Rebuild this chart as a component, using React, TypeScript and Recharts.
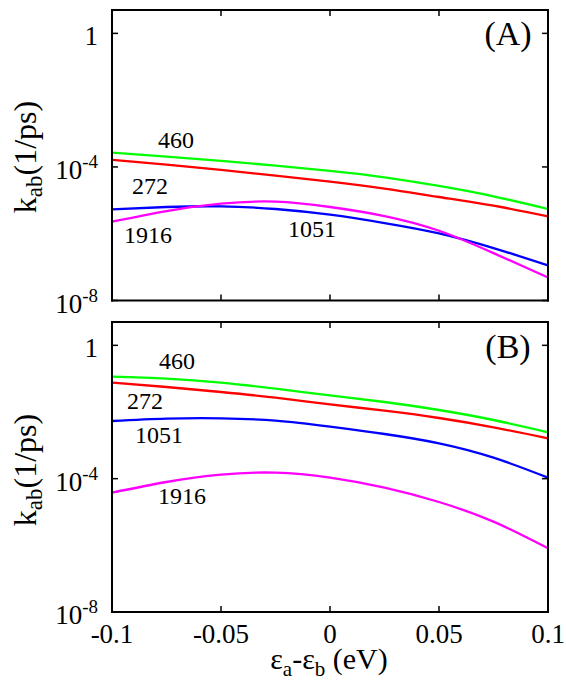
import React from "react";
import { LineChart, Line, XAxis, YAxis } from "recharts";

// energy gap eps_a - eps_b (eV)
const X_VALUES = [-0.1, -0.075, -0.05, -0.025, 0, 0.025, 0.05, 0.075, 0.1];

// log10 k_ab (1/ps), panel A
const A_460 = [-3.57, -3.69, -3.82, -3.96, -4.12, -4.31, -4.57, -4.88, -5.26];
const A_272 = [-3.79, -3.93, -4.09, -4.26, -4.44, -4.65, -4.9, -5.16, -5.48];
const A_1051 = [-5.27, -5.2, -5.18, -5.26, -5.43, -5.68, -5.99, -6.43, -6.95];
const A_1916 = [-5.64, -5.32, -5.1, -5.04, -5.2, -5.47, -5.91, -6.58, -7.31];

// log10 k_ab (1/ps), panel B
const B_460 = [-0.94, -1.0, -1.12, -1.3, -1.5, -1.7, -1.94, -2.24, -2.61];
const B_272 = [-1.12, -1.25, -1.4, -1.57, -1.77, -1.96, -2.18, -2.46, -2.79];
const B_1051 = [-2.27, -2.2, -2.19, -2.26, -2.44, -2.66, -2.94, -3.37, -3.97];
const B_1916 = [-4.42, -4.1, -3.88, -3.82, -3.97, -4.27, -4.7, -5.29, -6.09];

const X_TICKS = [-0.1, -0.05, 0, 0.05, 0.1];
const X_TICK_LABELS = ["-0.1", "-0.05", "0", "0.05", "0.1"];
const Y_TICKS = [-8, -4, 0];

const SERIES = [
  { key: "m460", color: "#00ff00" },
  { key: "m272", color: "#ff0000" },
  { key: "m1051", color: "#0000ff" },
  { key: "m1916", color: "#ff00ff" },
];

const FONT = "'Liberation Serif', 'DejaVu Serif', serif";
const TICK_LEN = 6;

const buildRows = (g: number[], r: number[], b: number[], m: number[]) =>
  X_VALUES.map((x, i) => ({ x, m460: g[i], m272: r[i], m1051: b[i], m1916: m[i] }));

const rowsA = buildRows(A_460, A_272, A_1051, A_1916);
const rowsB = buildRows(B_460, B_272, B_1051, B_1916);

const LeftTick = (props: any) => {
  const { x, y, payload } = props;
  const v = payload.value;
  return (
    <g>
      <line x1={x} x2={x + TICK_LEN} y1={y} y2={y} stroke="#000" strokeWidth={1.5} />
      <text x={x - 14} y={y + 12} textAnchor="end" fontFamily={FONT} fontSize={27} fill="#000">
        {v === 0 ? "1" : (
          <>
            10<tspan dy={-11} fontSize={19}>{String(v)}</tspan>
          </>
        )}
      </text>
    </g>
  );
};

const RightTick = (props: any) => {
  const { x, y } = props;
  return <line x1={x} x2={x - TICK_LEN} y1={y} y2={y} stroke="#000" strokeWidth={1.5} />;
};

const TopTick = (props: any) => {
  const { x, y } = props;
  return <line x1={x} x2={x} y1={y} y2={y + TICK_LEN} stroke="#000" strokeWidth={1.5} />;
};

const makeBottomTick = (withLabels: boolean) => (props: any) => {
  const { x, y, payload, index } = props;
  return (
    <g>
      <line x1={x} x2={x} y1={y} y2={y - TICK_LEN} stroke="#000" strokeWidth={1.5} />
      {withLabels && (
        <text x={x} y={y + 31} textAnchor="middle" fontFamily={FONT} fontSize={27} fill="#000">
          {X_TICK_LABELS[index] ?? String(payload.value)}
        </text>
      )}
    </g>
  );
};

const axisLine = { stroke: "#000", strokeWidth: 2, strokeLinecap: "square" as const };

function Panel({ rows, height, margin, labels }: { rows: any[]; height: number; margin: any; labels: boolean }) {
  return (
    <LineChart width={566} height={height} data={rows} margin={margin} style={{ overflow: "visible" }}>
      <XAxis
        xAxisId="bottom"
        dataKey="x"
        type="number"
        domain={[-0.1, 0.1]}
        ticks={X_TICKS}
        interval={0}
        height={1}
        tickSize={0}
        tickMargin={0}
        tickLine={false}
        axisLine={axisLine}
        tick={makeBottomTick(labels)}
      />
      <XAxis
        xAxisId="top"
        orientation="top"
        dataKey="x"
        type="number"
        domain={[-0.1, 0.1]}
        ticks={X_TICKS}
        interval={0}
        height={1}
        tickSize={0}
        tickMargin={0}
        tickLine={false}
        axisLine={axisLine}
        tick={TopTick}
      />
      <YAxis
        yAxisId="left"
        type="number"
        domain={[-8, 0.7]}
        allowDataOverflow
        ticks={Y_TICKS}
        interval={0}
        width={1}
        tickSize={0}
        tickMargin={0}
        tickLine={false}
        axisLine={axisLine}
        tick={LeftTick}
      />
      <YAxis
        yAxisId="right"
        orientation="right"
        type="number"
        domain={[-8, 0.7]}
        allowDataOverflow
        ticks={Y_TICKS}
        interval={0}
        width={1}
        tickSize={0}
        tickMargin={0}
        tickLine={false}
        axisLine={axisLine}
        tick={RightTick}
      />
      {SERIES.map((s) => (
        <Line
          key={s.key}
          xAxisId="bottom"
          yAxisId="left"
          dataKey={s.key}
          type="natural"
          stroke={s.color}
          strokeWidth={2.3}
          dot={false}
          activeDot={false}
          isAnimationActive={false}
        />
      ))}
    </LineChart>
  );
}

const txt = { fontFamily: FONT, fill: "#000" };

export default function App() {
  return (
    <div style={{ position: "absolute", left: 0, top: 0, width: 566, height: 682, background: "#fff" }}>
      <div style={{ position: "absolute", left: 0, top: 311 }}>
        <Panel rows={rowsB} height={371} margin={{ top: 10, right: 17, bottom: 69, left: 111 }} labels />
      </div>
      <div style={{ position: "absolute", left: 0, top: 0 }}>
        <Panel rows={rowsA} height={330} margin={{ top: 9, right: 17, bottom: 28.5, left: 111 }} labels={false} />
      </div>
      <svg width={566} height={682} style={{ position: "absolute", left: 0, top: 0, pointerEvents: "none" }}>
        {/* panel A annotations */}
        <text x={508} y={45} textAnchor="middle" fontSize={34} {...txt}>(A)</text>
        <text x={176} y={148} textAnchor="middle" fontSize={24} {...txt}>460</text>
        <text x={150} y={194} textAnchor="middle" fontSize={24} {...txt}>272</text>
        <text x={148} y={243} textAnchor="middle" fontSize={24} {...txt}>1916</text>
        <text x={312} y={237} textAnchor="middle" fontSize={24} {...txt}>1051</text>
        {/* panel B annotations */}
        <text x={508} y={358} textAnchor="middle" fontSize={34} {...txt}>(B)</text>
        <text x={177} y={369} textAnchor="middle" fontSize={24} {...txt}>460</text>
        <text x={145} y={409} textAnchor="middle" fontSize={24} {...txt}>272</text>
        <text x={159} y={443} textAnchor="middle" fontSize={24} {...txt}>1051</text>
        <text x={182} y={504} textAnchor="middle" fontSize={24} {...txt}>1916</text>
        {/* axis titles */}
        {[157, 470].map((cy) => (
          <text key={cy} transform={`translate(36,${cy}) rotate(-90)`} textAnchor="middle" fontSize={32} {...txt}>
            k<tspan dy={6} fontSize={23}>ab</tspan>
            <tspan dy={-6}>(1/ps)</tspan>
          </text>
        ))}
        <text x={329} y={669} textAnchor="middle" fontSize={30} {...txt}>
          ε<tspan dy={7} fontSize={21}>a</tspan>
          <tspan dy={-7}>-ε</tspan>
          <tspan dy={7} fontSize={21}>b</tspan>
          <tspan dy={-7}> (eV)</tspan>
        </text>
      </svg>
    </div>
  );
}
